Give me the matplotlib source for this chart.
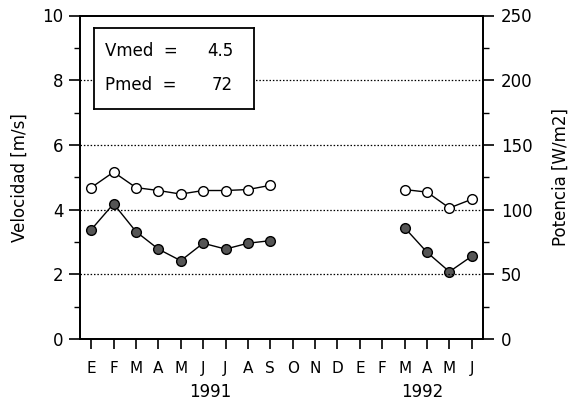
import matplotlib
matplotlib.use("Agg")
import matplotlib.pyplot as plt
from matplotlib.ticker import MultipleLocator

months = ["E", "F", "M", "A", "M", "J", "J", "A", "S", "O", "N", "D",
          "E", "F", "M", "A", "M", "J"]
# velocity (m/s), open circles
vel_1991 = [4.68, 5.16, 4.68, 4.59, 4.48, 4.59, 4.59, 4.62, 4.75]
vel_1992 = [4.62, 4.54, 4.05, 4.32]
# power (W/m2), filled circles
pot_1991 = [84.5, 104.5, 83.0, 69.5, 60.5, 74.0, 69.5, 74.0, 76.0]
pot_1992 = [86.0, 67.0, 52.0, 64.0]
idx_1991 = list(range(0, 9))
idx_1992 = list(range(14, 18))
years = ["1991", "1992"]
year_pos = [5.3, 14.8]
vmed = "4.5"
pmed = "72"

plt.rcParams['font.family'] = ['DejaVu Sans']
fig = plt.figure(figsize=(5.73, 4.07), dpi=100)
ax = fig.add_axes([80/573, (407-339)/407, (483-80)/573, (339-15.5)/407])
ax2 = ax.twinx()

ax.set_xlim(-0.5, 17.5)
ax.set_ylim(0, 10)
ax2.set_ylim(0, 250)

for y in [2, 4, 6, 8]:
    ax.axhline(y, color='black', lw=0.9, ls=(0, (1.2, 1.5)), zorder=1)

ax.plot(idx_1991, vel_1991, '-o', color='black', lw=1.0, ms=7,
        mfc='white', mec='black', mew=1.0, zorder=4)
ax.plot(idx_1992, vel_1992, '-o', color='black', lw=1.0, ms=7,
        mfc='white', mec='black', mew=1.0, zorder=4)
ax2.plot(idx_1991, pot_1991, '-o', color='black', lw=1.0, ms=7,
         mfc='#555555', mec='black', mew=1.0, zorder=4)
ax2.plot(idx_1992, pot_1992, '-o', color='black', lw=1.0, ms=7,
         mfc='#555555', mec='black', mew=1.0, zorder=4)

ax.set_xticks(range(len(months)))
ax.set_xticklabels(months, fontsize=11)
ax.yaxis.set_major_locator(MultipleLocator(2))
ax.yaxis.set_minor_locator(MultipleLocator(1))
ax2.yaxis.set_major_locator(MultipleLocator(50))
ax2.yaxis.set_minor_locator(MultipleLocator(25))
ax.tick_params(axis='y', which='major', direction='out', length=8, width=1.2, labelsize=12, pad=4)
ax.tick_params(axis='y', which='minor', direction='out', length=4, width=1.0)
ax.tick_params(axis='x', which='major', direction='out', length=7, width=1.2, pad=9)
ax2.tick_params(axis='y', which='major', direction='out', length=8, width=1.2, labelsize=12, pad=5)
ax2.tick_params(axis='y', which='minor', direction='out', length=4, width=1.0)

for a in (ax, ax2):
    for s in a.spines.values():
        s.set_linewidth(1.3)

ax.set_ylabel("Velocidad [m/s]", fontsize=12, labelpad=10)
ax2.set_ylabel("Potencia [W/m2]", fontsize=12, labelpad=14)

for yr, xp in zip(years, year_pos):
    ax.text(xp, -1.65, yr, ha='center', va='center', fontsize=12,
            transform=ax.transData, clip_on=False)

ax.set_zorder(ax2.get_zorder() + 1)
ax.patch.set_visible(False)

box = fig.add_axes([94/573, (407-109)/407, (254-94)/573, (109-28)/407])
box.set_xticks([]); box.set_yticks([])
box.set_facecolor('white')
for s in box.spines.values():
    s.set_linewidth(1.3)
box.set_zorder(10)
box.text(0.07, 0.72, "Vmed  =", fontsize=12, va='center', ha='left', transform=box.transAxes)
box.text(0.87, 0.72, vmed, fontsize=12, va='center', ha='right', transform=box.transAxes)
box.text(0.07, 0.30, "Pmed  =", fontsize=12, va='center', ha='left', transform=box.transAxes)
box.text(0.87, 0.30, pmed, fontsize=12, va='center', ha='right', transform=box.transAxes)

fig.savefig("out.png", dpi=100)
